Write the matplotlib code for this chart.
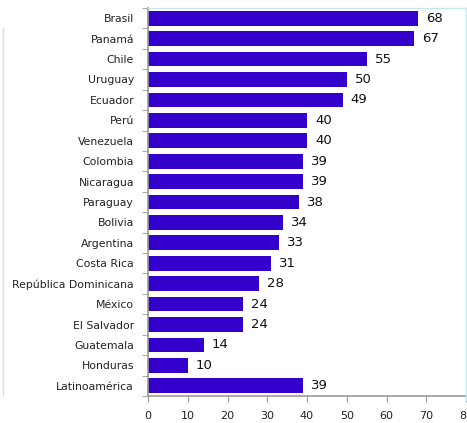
import matplotlib
matplotlib.use("Agg")
import matplotlib.pyplot as plt
import numpy as np
from matplotlib.lines import Line2D

countries = ["Brasil", "Panamá", "Chile", "Uruguay", "Ecuador", "Perú", "Venezuela",
             "Colombia", "Nicaragua", "Paraguay", "Bolivia", "Argentina", "Costa Rica",
             "República Dominicana", "México", "El Salvador", "Guatemala", "Honduras",
             "Latinoamérica"]
values = [68, 67, 55, 50, 49, 40, 40, 39, 39, 38, 34, 33, 31, 28, 24, 24, 14, 10, 39]
xticks = [0, 10, 20, 30, 40, 50, 60, 70, 80]

fig = plt.figure(figsize=(4.67, 4.23), dpi=100)
ax = fig.add_axes([148/467, 1-396/423, 318/467, 388/423])

y = np.arange(len(countries))
ax.barh(y, values, height=0.72, color="#3300CC")
ax.set_ylim(len(countries)-0.5, -0.5)
ax.set_xlim(0, 80)
ax.set_yticks(y)
ax.set_yticklabels(countries, fontsize=7.8, color="#222222")
ax.tick_params(axis="y", length=0, pad=10)
ax.set_yticks(np.arange(-0.5, len(countries), 1), minor=True)
ax.tick_params(axis="y", which="minor", length=4, color="#999999", direction="out")
ax.set_xticks(xticks)
ax.set_xticklabels([str(t) for t in xticks], fontsize=8, color="#222222")
ax.tick_params(axis="x", length=4, color="#999999", direction="out", pad=7)
for s in ["top", "right"]:
    ax.spines[s].set_visible(False)
for s in ["left", "bottom"]:
    ax.spines[s].set_color("#999999")
    ax.spines[s].set_linewidth(1.2)

for yi, v in zip(y, values):
    ax.text(v + 2.0, yi, str(v), va="center", ha="left", fontsize=9.5, color="#111111")

# light frame lines
fig.add_artist(Line2D([3/467, 3/467], [1-28/423, 1-396/423], color="#c8e4ec", lw=1, transform=fig.transFigure))
fig.add_artist(Line2D([148/467, 466/467], [1-8/423, 1-8/423], color="#c8e4ec", lw=1, transform=fig.transFigure))
fig.add_artist(Line2D([466/467, 466/467], [1-8/423, 1-400/423], color="#c8e4ec", lw=1, transform=fig.transFigure))

fig.savefig("out.png", dpi=100)
